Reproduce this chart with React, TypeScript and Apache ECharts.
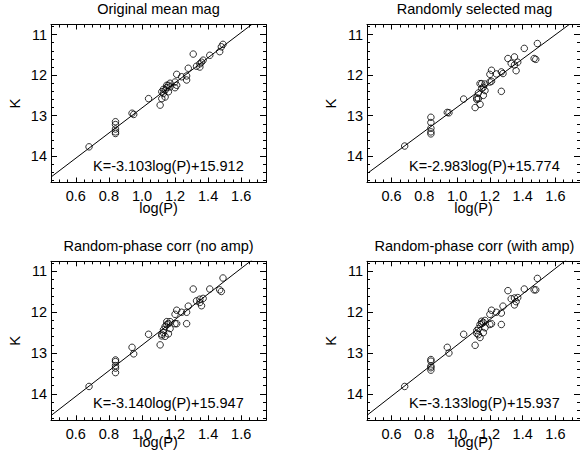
import React, { useEffect, useRef } from "react";
import * as echarts from "echarts";

// shared periods (log P) of the stars
const logP = [
  0.68, 0.84, 0.84, 0.84, 0.84, 0.84, 0.94, 0.95, 1.04, 1.11,
  1.12, 1.12, 1.13, 1.13, 1.14, 1.14, 1.15, 1.15, 1.16, 1.16,
  1.17, 1.17, 1.2, 1.2, 1.21, 1.21, 1.24, 1.27, 1.27, 1.28,
  1.31, 1.33, 1.35, 1.35, 1.36, 1.37, 1.41, 1.47, 1.48, 1.49,
];

const kOriginal = [
  13.77, 13.15, 13.22, 13.33, 13.4, 13.44, 12.94, 12.97, 12.58, 12.74,
  12.58, 12.41, 12.45, 12.35, 12.37, 12.54, 12.31, 12.25, 12.25, 12.41,
  12.29, 12.2, 12.17, 12.31, 11.98, 12.25, 12.04, 12.12, 12.02, 11.83,
  11.48, 11.78, 11.72, 11.8, 11.68, 11.63, 11.51, 11.42, 11.3, 11.24,
];

const kRandomSel = [
  13.75, 13.04, 13.17, 13.31, 13.4, 13.45, 12.92, 12.93, 12.59, 12.8,
  12.6, 12.56, 12.44, 12.58, 12.72, 12.21, 12.21, 12.33, 12.5, 12.3,
  12.38, 12.22, 12.17, 11.98, 11.88, 12.15, 11.97, 12.4, 11.92, 11.96,
  11.59, 11.71, 11.55, 11.75, 11.89, 11.68, 11.34, 11.59, 11.61, 11.22,
];

const kPhaseNoAmp = [
  13.82, 13.17, 13.21, 13.31, 13.37, 13.48, 12.86, 13.02, 12.54, 12.8,
  12.54, 12.58, 12.43, 12.5, 12.35, 12.59, 12.23, 12.3, 12.53, 12.28,
  12.23, 12.4, 12.05, 12.28, 11.95, 12.28, 12.0, 12.28, 12.0, 11.85,
  11.43, 11.72, 11.68, 11.76, 11.84, 11.66, 11.43, 11.45, 11.49, 11.16,
];

const kPhaseAmp = [
  13.82, 13.16, 13.2, 13.32, 13.36, 13.42, 12.86, 13.0, 12.54, 12.81,
  12.52, 12.45, 12.4, 12.55, 12.3, 12.62, 12.22, 12.28, 12.5, 12.25,
  12.2, 12.38, 12.05, 12.3, 11.95, 12.28, 12.0, 12.3, 12.02, 11.85,
  11.47, 11.67, 11.65, 11.82, 11.74, 11.64, 11.43, 11.45, 11.45, 11.17,
];

const titles = [
  "Original mean mag",
  "Randomly selected mag",
  "Random-phase corr (no amp)",
  "Random-phase corr (with amp)",
];
const slopes = [-3.103, -2.983, -3.14, -3.133];
const intercepts = [15.912, 15.774, 15.947, 15.937];

const xTickLabels = [0.6, 0.8, 1.0, 1.2, 1.4, 1.6];
const xMinorTicks = [
  0.5, 0.55, 0.6, 0.65, 0.7, 0.75, 0.8, 0.85, 0.9, 0.95, 1.0, 1.05, 1.1,
  1.15, 1.2, 1.25, 1.3, 1.35, 1.4, 1.45, 1.5, 1.55, 1.6, 1.65, 1.7,
];
const yTickLabels = [11, 12, 13, 14];
const yMinorTicks = [
  10.8, 11.0, 11.2, 11.4, 11.6, 11.8, 12.0, 12.2, 12.4, 12.6, 12.8, 13.0,
  13.2, 13.4, 13.6, 13.8, 14.0, 14.2, 14.4, 14.6,
];

const X_MIN = 0.45;
const X_MAX = 1.75;
const Y_MIN = 10.75;
const Y_MAX = 14.65;

const FONT = '"Liberation Sans", Arial, Helvetica, sans-serif';
const FS = 14.5;

export default function App() {
  const ref = useRef<HTMLDivElement>(null);
  useEffect(() => {
    const chart = echarts.init(ref.current!, null, { renderer: "svg" });
    const kSets = [kOriginal, kRandomSel, kPhaseNoAmp, kPhaseAmp];
    const layout = [
      { left: 51, top: 24.5, h: 158, nameGap: 18 },
      { left: 367, top: 24.5, h: 158, nameGap: 18 },
      { left: 51, top: 261.3, h: 159, nameGap: 14.5 },
      { left: 367, top: 261.3, h: 159, nameGap: 14.5 },
    ];
    const W = 215;
    const grids: any[] = [];
    const xAxes: any[] = [];
    const yAxes: any[] = [];
    const series: any[] = [];
    const graphics: any[] = [];
    const black = "#000";

    layout.forEach((p, i) => {
      grids.push({ left: p.left, top: p.top, width: W, height: p.h, containLabel: false });
      const baseX = {
        type: "value",
        gridIndex: i,
        min: X_MIN,
        max: X_MAX,
        splitLine: { show: false },
      };
      const baseY = {
        type: "value",
        gridIndex: i,
        min: Y_MIN,
        max: Y_MAX,
        inverse: true,
        splitLine: { show: false },
      };
      const line = { show: true, onZero: false, lineStyle: { color: black, width: 1 } };
      // bottom major
      xAxes.push({
        ...baseX,
        position: "bottom",
        axisLine: line,
        axisTick: { show: true, inside: true, length: 5, customValues: xTickLabels, lineStyle: { color: black } },
        axisLabel: {
          show: true,
          customValues: xTickLabels,
          formatter: (v: number) => v.toFixed(1),
          color: black,
          fontSize: FS,
          fontFamily: FONT,
          margin: 6,
        },
        name: "log(P)",
        nameLocation: "middle",
        nameGap: p.nameGap,
        nameMoveOverlap: false,
        nameTextStyle: { color: black, fontSize: FS, fontFamily: FONT },
      });
      // bottom minor
      xAxes.push({
        ...baseX,
        position: "bottom",
        axisLine: { show: false, onZero: false },
        axisTick: { show: true, inside: true, length: 3, customValues: xMinorTicks, lineStyle: { color: black } },
        axisLabel: { show: false },
      });
      // top major
      xAxes.push({
        ...baseX,
        position: "top",
        axisLine: line,
        axisTick: { show: true, inside: true, length: 5, customValues: xTickLabels, lineStyle: { color: black } },
        axisLabel: { show: false },
      });
      // top minor
      xAxes.push({
        ...baseX,
        position: "top",
        axisLine: { show: false, onZero: false },
        axisTick: { show: true, inside: true, length: 3, customValues: xMinorTicks, lineStyle: { color: black } },
        axisLabel: { show: false },
      });
      // left major
      yAxes.push({
        ...baseY,
        position: "left",
        axisLine: line,
        axisTick: { show: true, inside: true, length: 6, customValues: yTickLabels, lineStyle: { color: black } },
        axisLabel: {
          show: true,
          customValues: yTickLabels,
          formatter: (v: number) => String(v),
          color: black,
          fontSize: FS,
          fontFamily: FONT,
          margin: 4,
        },
        name: "K",
        nameLocation: "middle",
        nameGap: 29,
        nameRotate: 90,
        nameMoveOverlap: false,
        nameTextStyle: { color: black, fontSize: 15, fontFamily: FONT },
      });
      // left minor
      yAxes.push({
        ...baseY,
        position: "left",
        axisLine: { show: false, onZero: false },
        axisTick: { show: true, inside: true, length: 3, customValues: yMinorTicks, lineStyle: { color: black } },
        axisLabel: { show: false },
      });
      // right major
      yAxes.push({
        ...baseY,
        position: "right",
        axisLine: line,
        axisTick: { show: true, inside: true, length: 6, customValues: yTickLabels, lineStyle: { color: black } },
        axisLabel: { show: false },
      });
      // right minor
      yAxes.push({
        ...baseY,
        position: "right",
        axisLine: { show: false, onZero: false },
        axisTick: { show: true, inside: true, length: 3, customValues: yMinorTicks, lineStyle: { color: black } },
        axisLabel: { show: false },
      });

      const ks = kSets[i];
      series.push({
        type: "scatter",
        xAxisIndex: i * 4,
        yAxisIndex: i * 4,
        symbol: "circle",
        symbolSize: 6.5,
        itemStyle: { color: "rgba(255,255,255,0)", borderColor: black, borderWidth: 1 },
        data: logP.map((x, j) => [x, ks[j]]),
        silent: true,
      });
      series.push({
        type: "line",
        xAxisIndex: i * 4,
        yAxisIndex: i * 4,
        showSymbol: false,
        symbol: "none",
        clip: true,
        lineStyle: { color: black, width: 1 },
        data: [
          [X_MIN, intercepts[i] + slopes[i] * X_MIN],
          [X_MAX, intercepts[i] + slopes[i] * X_MAX],
        ],
        silent: true,
      });

      graphics.push({
        type: "text",
        x: p.left + W / 2,
        y: p.top - 15.5,
        style: {
          text: titles[i],
          fill: black,
          fontSize: FS,
          fontFamily: FONT,
          align: "center",
          verticalAlign: "middle",
        },
      });
      graphics.push({
        type: "text",
        x: p.left + 42,
        y: p.top + 141.5,
        style: {
          text: `K=${slopes[i].toFixed(3)}log(P)+${intercepts[i].toFixed(3)}`,
          fill: black,
          fontSize: FS,
          fontFamily: FONT,
          align: "left",
          verticalAlign: "middle",
        },
      });
    });

    chart.setOption({
      animation: false,
      backgroundColor: "#fff",
      grid: grids,
      xAxis: xAxes,
      yAxis: yAxes,
      series,
      graphic: graphics,
    });
    return () => chart.dispose();
  }, []);
  return (
    <div
      ref={ref}
      style={{ position: "fixed", left: 0, top: 0, width: 580, height: 457, background: "#fff" }}
    />
  );
}
